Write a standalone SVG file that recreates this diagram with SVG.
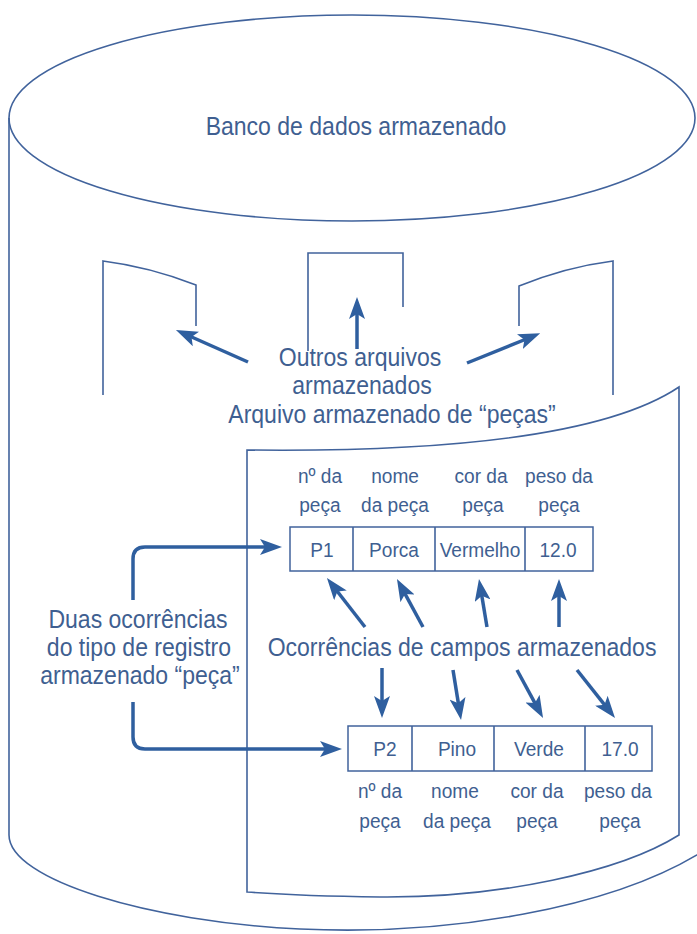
<svg xmlns="http://www.w3.org/2000/svg" width="697" height="934" viewBox="0 0 697 934">
<style>
.outline{fill:none;stroke:#41639c;stroke-width:1.6}
.box{fill:#ffffff;stroke:#41639c;stroke-width:1.5}
.arr{fill:none;stroke:#2f5f9f;stroke-width:3.5;marker-end:url(#ah)}
.big{font-family:"Liberation Sans",Arial,Helvetica,sans-serif;font-size:25.3px;fill:#3f5f91;text-anchor:middle}
.sm{font-family:"Liberation Sans",Arial,Helvetica,sans-serif;font-size:21px;fill:#3f5f91;text-anchor:middle}
</style>
<defs>
<marker id="ah" markerUnits="userSpaceOnUse" markerWidth="22" markerHeight="16" refX="11" refY="8" orient="auto">
<path d="M0,0 L22,8 L0,16 L5,8 z" fill="#2f5f9f"/>
</marker>
</defs>
<rect width="697" height="934" fill="#ffffff"/>
<g id="cylinder">
<ellipse class="outline" cx="352" cy="118" rx="343" ry="103"/>
<path class="outline" d="M9,118 V835 C9,880 150,922 300,929 C450,936 610,908 700,853"/>
<g transform="scale(0.91,1)">
<text class="big" x="391.2" y="135">Banco de dados armazenado</text>
</g>
</g>
<g id="other-files">
<path class="outline" d="M103,395 V261 Q150,267 196,285 V326"/>
<path class="outline" d="M308,351 V253 H403 V307"/>
<path class="outline" d="M519,326 V286 Q566,267 613,261 V395"/>
<g transform="scale(0.91,1)">
<text class="big" x="395.6" y="366">Outros arquivos</text>
<text class="big" x="397.8" y="394">armazenados</text>
</g>
</g>
<g id="parts-file">
<path class="outline" d="M247,450 C420,452 600,440 679,387 V835 C620,872 500,898 380,897 Q300,896 247,892 Z"/>
<g transform="scale(0.91,1)">
<text class="big" x="430.8" y="423">Arquivo armazenado de “peças”</text>
</g>
</g>
<g id="record1">
<rect class="box" x="290" y="527" width="303" height="44"/>
<path class="outline" d="M353,527 V571 M435,527 V571 M525,527 V571"/>
<g transform="scale(0.91,1)">
<text class="sm" x="351.6" y="483">nº da</text>
<text class="sm" x="351.6" y="512">peça</text>
<text class="sm" x="434.1" y="483">nome</text>
<text class="sm" x="434.1" y="512">da peça</text>
<text class="sm" x="528.6" y="483">cor da</text>
<text class="sm" x="530.8" y="512">peça</text>
<text class="sm" x="614.3" y="483">peso da</text>
<text class="sm" x="614.3" y="512">peça</text>
<text class="sm" x="353.8" y="557">P1</text>
<text class="sm" x="433.0" y="557">Porca</text>
<text class="sm" x="527.5" y="557">Vermelho</text>
<text class="sm" x="613.2" y="557">12.0</text>
</g>
</g>
<g id="record2">
<rect class="box" x="348" y="726" width="304" height="45"/>
<path class="outline" d="M412,726 V771 M494,726 V771 M585,726 V771"/>
<g transform="scale(0.91,1)">
<text class="sm" x="423.1" y="756">P2</text>
<text class="sm" x="502.2" y="756">Pino</text>
<text class="sm" x="592.3" y="756">Verde</text>
<text class="sm" x="681.3" y="756">17.0</text>
<text class="sm" x="417.6" y="798">nº da</text>
<text class="sm" x="417.6" y="828">peça</text>
<text class="sm" x="500.0" y="798">nome</text>
<text class="sm" x="502.2" y="828">da peça</text>
<text class="sm" x="590.1" y="798">cor da</text>
<text class="sm" x="590.1" y="828">peça</text>
<text class="sm" x="679.1" y="798">peso da</text>
<text class="sm" x="681.3" y="828">peça</text>
</g>
</g>
<g id="field-label">
<g transform="scale(0.91,1)">
<text class="big" x="507.7" y="656">Ocorrências de campos armazenados</text>
</g>
</g>
<g id="record-label">
<g transform="scale(0.91,1)">
<text class="big" x="151.6" y="628">Duas ocorrências</text>
<text class="big" x="152.7" y="656">do tipo de registro</text>
<text class="big" x="153.8" y="684">armazenado “peça”</text>
</g>
</g>
<g id="connectors">
<path class="arr" d="M248,362 L186,334.5"/>
<path class="arr" d="M357,349 L357,308"/>
<path class="arr" d="M467,363 L530,337.5"/>
<path class="arr" d="M365,627 L333.7,586.7"/>
<path class="arr" d="M423,627 L402.2,588.7"/>
<path class="arr" d="M487,627 L480.8,589.8"/>
<path class="arr" d="M559,627 L559,590"/>
<path class="arr" d="M382,668 L382,707"/>
<path class="arr" d="M453,670 L459.3,709.1"/>
<path class="arr" d="M517,670 L537.8,708.3"/>
<path class="arr" d="M577,670 L608.2,709.4"/>
<path class="arr" d="M133,600 V559 Q133,547 145,547 H271"/>
<path class="arr" d="M133,702 V737 Q133,749 145,749 H331"/>
</g>
</svg>
